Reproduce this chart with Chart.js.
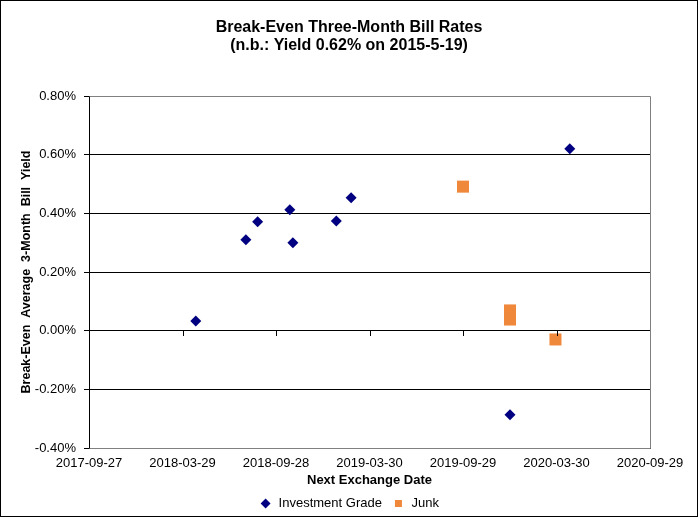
<!DOCTYPE html>
<html>
<head>
<meta charset="utf-8">
<script src="https://cdn.jsdelivr.net/npm/chart.js@4.4.1/dist/chart.umd.min.js"></script>
<style>
  body { margin: 0; background: #fff; }
  canvas { display: block; }
</style>
</head>
<body>
<canvas id="bill_chart" width="698" height="517"></canvas>
<script>
// dates of next exchange and break-even yields (in %)
let ig_dates = ['2018-04-24', '2018-07-31', '2018-08-23', '2018-10-25', '2018-10-31', '2019-01-24', '2019-02-22', '2019-12-30', '2020-04-25']
let ig_yields = [0.033, 0.31, 0.371, 0.412, 0.30, 0.374, 0.453, -0.287, 0.62]
let junk_dates = ['2019-09-29', '2019-12-30', '2019-12-30', '2020-03-28']
let junk_yields = [0.491, 0.069, 0.038, -0.030]
let x_tick_dates = ['2017-09-27', '2018-03-29', '2018-09-28', '2019-03-30', '2019-09-29', '2020-03-30', '2020-09-29']
let y_ticks = [-0.4, -0.2, 0, 0.2, 0.4, 0.6, 0.8]

// excel style day numbers
let day0 = Date.UTC(1899, 11, 30)
function toSerial(s) {
    let p = s.split('-').map(Number)
    return (Date.UTC(p[0], p[1] - 1, p[2]) - day0) / 864e5
}
function fromSerial(n) {
    return new Date(day0 + n * 864e5).toISOString().slice(0, 10)
}
function points(dates, vals) {
    return dates.map((d, i) => ({ x: toSerial(d), y: vals[i] }))
}

Chart.defaults.font.family = "'Liberation Sans', Arial, sans-serif"
Chart.defaults.color = '#000'

let frame = {
    id: 'frame',
    beforeDraw(chart) {
        let c = chart.ctx
        c.save()
        c.fillStyle = '#fff'
        c.fillRect(0, 0, chart.width, chart.height)
        c.restore()
    },
    afterDraw(chart) {
        let c = chart.ctx, a = chart.chartArea
        let xs = chart.scales.x, ys = chart.scales.y
        c.save()
        c.lineWidth = 1
        c.strokeStyle = '#000'
        c.strokeRect(0.5, 0.5, chart.width - 1, chart.height - 1)
        // tick marks where the date axis crosses zero
        c.beginPath()
        let y0 = Math.round(ys.getPixelForValue(0))
        xs.ticks.forEach(t => {
            let px = Math.round(xs.getPixelForValue(t.value)) + 0.5
            c.moveTo(px, y0)
            c.lineTo(px, y0 + 5)
        })
        c.stroke()
        // plot area border (grey) on top, right, bottom
        let l = Math.round(a.left) + 0.5, r = Math.round(a.right) + 0.5
        let t = Math.round(a.top) + 0.5, b = Math.round(a.bottom) + 0.5
        c.strokeStyle = '#808080'
        c.beginPath()
        c.moveTo(l, t)
        c.lineTo(r, t)
        c.lineTo(r, b)
        c.lineTo(l, b)
        c.stroke()
        c.restore()
    }
}

let ctx = document.querySelector('#bill_chart').getContext('2d')

let bill_chart = new Chart(ctx, {
    type: 'scatter',
    data: {
        datasets: [{
            label: 'Investment Grade',
            data: points(ig_dates, ig_yields),
            pointStyle: 'rectRot',
            pointRadius: 5.5,
            backgroundColor: '#000080',
            borderColor: '#000080',
            borderWidth: 0
        }, {
            label: 'Junk',
            data: points(junk_dates, junk_yields),
            pointStyle: 'rect',
            pointRadius: 8.5,
            backgroundColor: '#F0883C',
            borderColor: '#F0883C',
            borderWidth: 0
        }]
    },
    options: {
        responsive: false,
        animation: false,
        layout: { padding: 0 },
        plugins: {
            title: {
                display: true,
                text: ['Break-Even Three-Month Bill Rates', '(n.b.: Yield 0.62% on 2015-5-19)'],
                font: { size: 16, weight: 'bold', lineHeight: 1.15 },
                padding: { top: 18, bottom: 41.2 }
            },
            legend: {
                position: 'bottom',
                maxHeight: 30,
                labels: {
                    usePointStyle: true,
                    boxHeight: 7,
                    padding: 10,
                    font: { size: 13 }
                }
            },
            tooltip: { enabled: false }
        },
        scales: {
            x: {
                type: 'linear',
                min: toSerial(x_tick_dates[0]),
                max: toSerial(x_tick_dates[x_tick_dates.length - 1]),
                afterBuildTicks: s => { s.ticks = x_tick_dates.map(d => ({ value: toSerial(d) })) },
                afterFit: s => { s.height = 39 },
                grid: { display: false, drawTicks: false },
                border: { color: '#000' },
                ticks: {
                    padding: 7.5,
                    maxRotation: 0,
                    autoSkip: false,
                    font: { size: 13 },
                    callback: v => fromSerial(v)
                },
                title: {
                    display: true,
                    text: 'Next Exchange Date',
                    font: { size: 13, weight: 'bold', lineHeight: 1.08 },
                    padding: 0
                }
            },
            y: {
                min: y_ticks[0],
                max: y_ticks[y_ticks.length - 1],
                afterBuildTicks: s => { s.ticks = y_ticks.map(v => ({ value: v })) },
                afterFit: s => { s.width = 89 },
                grid: { color: '#000', lineWidth: 1, tickLength: 5 },
                border: { color: '#000' },
                ticks: {
                    padding: 8,
                    font: { size: 13 },
                    callback: v => v.toFixed(2) + '%'
                },
                title: {
                    display: true,
                    text: 'Break-Even  Average  3-Month  Bill  Yield',
                    font: { size: 12.5, weight: 'bold' },
                    padding: { top: 19, bottom: 0 }
                }
            },
            // empty right axis, only reserves the margin right of the plot
            yr: {
                position: 'right',
                afterFit: s => { s.width = 48 },
                grid: { display: false, drawTicks: false },
                border: { display: false },
                ticks: { display: false }
            }
        }
    },
    plugins: [frame]
})
</script>
</body>
</html>
